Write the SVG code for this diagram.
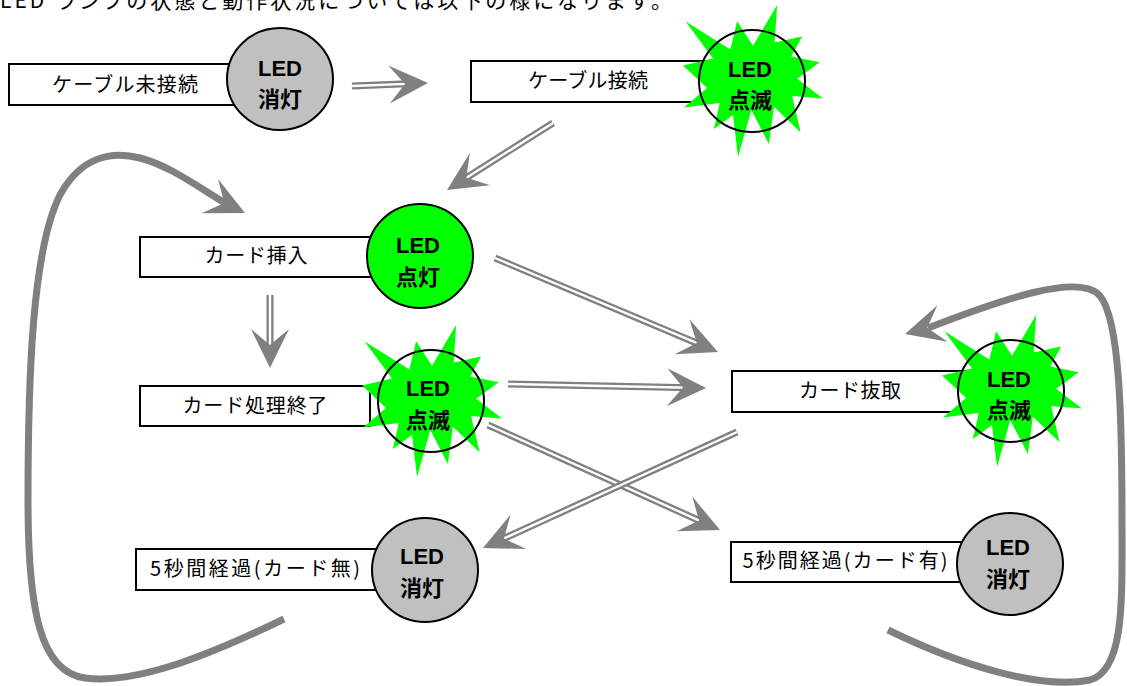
<svg xmlns="http://www.w3.org/2000/svg" xmlns:xlink="http://www.w3.org/1999/xlink" width="1127" height="686" viewBox="0 0 1127 686">
<style>
.box{fill:#fff;stroke:#000;stroke-width:2}
.lbl{font-family:"Noto Sans CJK JP","Liberation Sans",sans-serif;font-size:20px;fill:#000}
.led{font-family:"Liberation Sans","Noto Sans CJK JP",sans-serif;font-size:22px;font-weight:bold;fill:#000;text-anchor:middle}
.off{fill:#C0C0C0;stroke:#000;stroke-width:2}
.on{fill:#00FF00;stroke:#000;stroke-width:2}
.blink{fill:none;stroke:#000;stroke-width:2}
.star{fill:#00FF00}
.dlo{stroke:#808080;stroke-width:7;fill:none}
.dli{stroke:#fff;stroke-width:2.4;fill:none}
.curve{stroke:#808080;stroke-width:7;fill:none}
.ah{fill:#808080}
.hdr{font-family:"Noto Sans CJK JP","Liberation Sans",sans-serif;font-size:21px;fill:#000}
</style>
<defs>
<polygon id="ah" class="ah" points="0,0 -39,-19 -23,0 -39,19"/>
<path id="star" class="star" d="M70,40.8 L94.1,0 L91.7,37.5 L119.1,31.4 L108.3,51.5 L136.7,57.3 L114.1,73.7 L140,93.5 L109.1,91.1 L117.6,127.3 L90.9,101.7 L85.9,138.9 L68.3,105.1 L55,152 L50,110 L30.9,124 L36.7,98.1 L0.9,102.6 L24.1,82.9 L0,60.6 L30,53.6 L2.4,16.2 L47.4,44.5 L54.1,16.2 Z"/>
</defs>
<rect width="1127" height="686" fill="#fff"/>
<text class="hdr" x="0" y="8" textLength="672" lengthAdjust="spacing">LED ランプの状態と動作状況については以下の様になります。</text>

<g id="connectors">
  <g><line class="dlo" x1="352" y1="86" x2="413" y2="83.6"/><line class="dli" x1="352" y1="86" x2="413" y2="83.6"/><use xlink:href="#ah" transform="translate(428,83) rotate(-2.26)"/></g>
  <g><line class="dlo" x1="553" y1="123" x2="459.7" y2="182"/><line class="dli" x1="553" y1="123" x2="459.7" y2="182"/><use xlink:href="#ah" transform="translate(447,190) rotate(147.7)"/></g>
  <g><line class="dlo" x1="270" y1="295" x2="270" y2="353"/><line class="dli" x1="270" y1="295" x2="270" y2="353"/><use xlink:href="#ah" transform="translate(270,368) rotate(90)"/></g>
  <g><line class="dlo" x1="495" y1="258" x2="704.2" y2="346.2"/><line class="dli" x1="495" y1="258" x2="704.2" y2="346.2"/><use xlink:href="#ah" transform="translate(718,352) rotate(22.86)"/></g>
  <g><line class="dlo" x1="508" y1="384" x2="691" y2="387.7"/><line class="dli" x1="508" y1="384" x2="691" y2="387.7"/><use xlink:href="#ah" transform="translate(706,388) rotate(1.16)"/></g>
  <g><line class="dlo" x1="488" y1="425" x2="706.3" y2="523.8"/><line class="dli" x1="488" y1="425" x2="706.3" y2="523.8"/><use xlink:href="#ah" transform="translate(720,530) rotate(24.35)"/></g>
  <g><line class="dlo" x1="737" y1="432" x2="496.6" y2="541.8"/><line class="dli" x1="737" y1="432" x2="496.6" y2="541.8"/><use xlink:href="#ah" transform="translate(483,548) rotate(155.45)"/></g>
  <g><path class="curve" d="M284,619 C220,650 140,685 85,678 C40,672 28,610 28,500 C28,380 32,250 60,195 C80,158 110,150 140,158 C170,166 195,185 225,203"/><use xlink:href="#ah" transform="translate(245,213) rotate(25.6)"/></g>
  <g><path class="curve" d="M888,630 C960,665 1040,690 1090,680 C1125,670 1122,600 1122,520 C1122,420 1120,320 1100,296 C1080,272 1000,300 928,328"/><use xlink:href="#ah" transform="translate(905,334) rotate(164.4)"/></g>
</g>

<g id="node-cable-none">
  <rect class="box" x="9" y="64" width="230" height="41"/>
  <text class="lbl" x="125" y="92" text-anchor="middle" textLength="146" lengthAdjust="spacing">ケーブル未接続</text>
  <ellipse class="off" cx="280" cy="79" rx="53" ry="51"/>
  <text class="led" x="280" y="76">LED</text>
  <text class="led" x="280" y="107">消灯</text>
</g>

<g id="node-cable-connected">
  <rect class="box" x="471" y="61" width="240" height="41"/>
  <text class="lbl" x="588" y="88" text-anchor="middle" textLength="120" lengthAdjust="spacing">ケーブル接続</text>
  <use xlink:href="#star" transform="translate(683,5)"/>
  <ellipse class="blink" cx="752" cy="81" rx="53" ry="51"/>
  <text class="led" x="750" y="77">LED</text>
  <text class="led" x="750" y="108">点滅</text>
</g>

<g id="node-card-insert">
  <rect class="box" x="140" y="237" width="235" height="40"/>
  <text class="lbl" x="256" y="263" text-anchor="middle" textLength="103" lengthAdjust="spacing">カード挿入</text>
  <ellipse class="on" cx="420" cy="256" rx="53" ry="52"/>
  <text class="led" x="418" y="253">LED</text>
  <text class="led" x="418" y="285">点灯</text>
</g>

<g id="node-card-done">
  <rect class="box" x="140" y="386" width="230" height="40"/>
  <text class="lbl" x="255" y="413" text-anchor="middle" textLength="145" lengthAdjust="spacing">カード処理終了</text>
  <use xlink:href="#star" transform="translate(362,325)"/>
  <ellipse class="blink" cx="431" cy="401" rx="53" ry="51"/>
  <text class="led" x="428" y="396">LED</text>
  <text class="led" x="428" y="428">点滅</text>
</g>

<g id="node-card-removed">
  <rect class="box" x="732" y="371" width="235" height="41"/>
  <text class="lbl" x="850" y="398" text-anchor="middle" textLength="102" lengthAdjust="spacing">カード抜取</text>
  <use xlink:href="#star" transform="translate(942,315)"/>
  <ellipse class="blink" cx="1011" cy="391" rx="53" ry="51"/>
  <text class="led" x="1009" y="387">LED</text>
  <text class="led" x="1009" y="418">点滅</text>
</g>

<g id="node-5s-nocard">
  <rect class="box" x="136" y="549" width="240" height="41"/>
  <text class="lbl" x="255" y="576" text-anchor="middle" textLength="210" lengthAdjust="spacing">5秒間経過(カード無)</text>
  <ellipse class="off" cx="425" cy="570" rx="53" ry="52"/>
  <text class="led" x="422" y="564">LED</text>
  <text class="led" x="422" y="596">消灯</text>
</g>

<g id="node-5s-card">
  <rect class="box" x="731" y="542" width="235" height="40"/>
  <text class="lbl" x="845" y="568" text-anchor="middle" textLength="205" lengthAdjust="spacing">5秒間経過(カード有)</text>
  <ellipse class="off" cx="1010" cy="564" rx="53" ry="51"/>
  <text class="led" x="1008" y="555">LED</text>
  <text class="led" x="1008" y="587">消灯</text>
</g>
</svg>
